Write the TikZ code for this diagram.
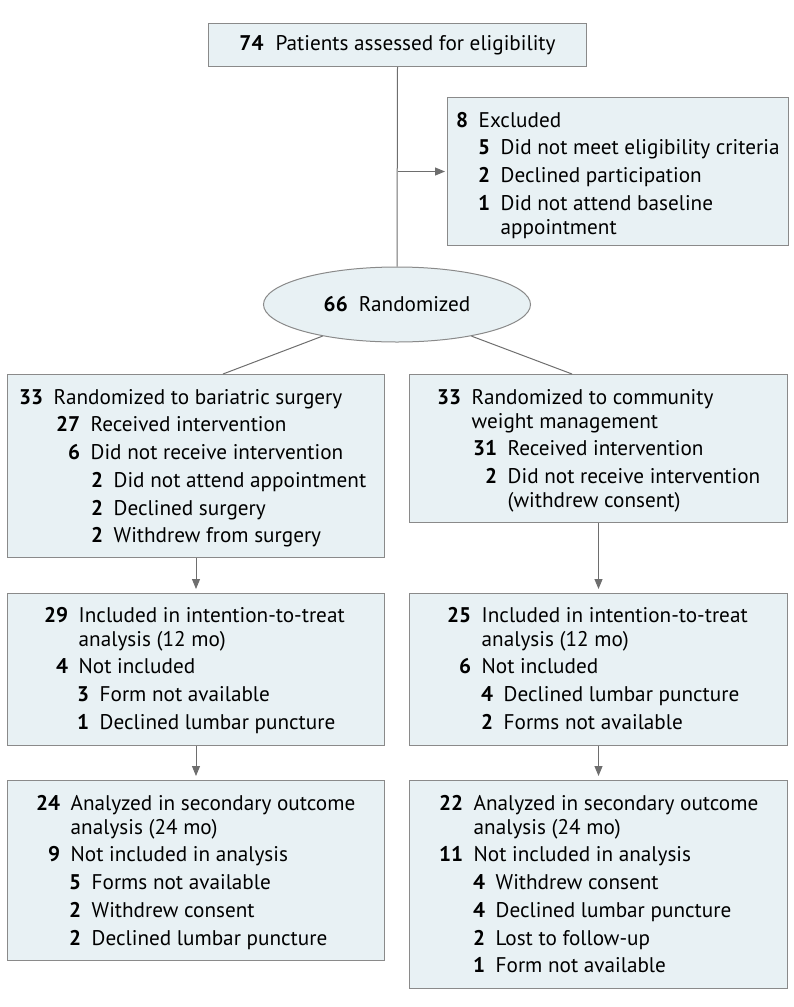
\documentclass[tikz,border=0pt]{standalone}
\usepackage{fontspec}
\setmainfont{PT Sans}
\usetikzlibrary{arrows.meta,shapes.geometric,calc}
\definecolor{boxfill}{RGB}{232,241,244}
\definecolor{boxline}{RGB}{138,138,138}
\definecolor{connc}{RGB}{110,110,110}
\newcommand\nm[2]{\makebox[#1pt][r]{\textbf{#2}}\hspace{10.5pt}}
\newcommand\cn[1]{\hspace*{\dimexpr#1pt+10.5pt\relax}}
\newcommand\st{\rule{0pt}{20pt}}
\newcommand\nl{\\[3.7pt]}
\begin{document}
\begin{tikzpicture}[x=1pt,y=-1pt,
  box/.style={draw=boxline,fill=boxfill,line width=1pt,inner sep=0pt},
  txt/.style={anchor=north west,align=left,inner sep=0pt,font=\fontsize{21.2}{24}\selectfont},
  conn/.style={draw=connc,line width=1pt},
  arr/.style={conn,-{Triangle[length=10pt,width=8pt]}}]
\useasboundingbox (0,0) rectangle (794,1007);

% boxes
\node[box,minimum width=378pt,minimum height=43pt,anchor=north west,font=\fontsize{21.2}{24}\selectfont] (top) at (208,23) {\textbf{74}\hspace{12pt}Patients assessed for eligibility};
\node[box,minimum width=341pt,minimum height=148pt,anchor=north west] (excl) at (447,97) {};
\node[box,ellipse,minimum width=267pt,minimum height=75pt,font=\fontsize{21.2}{24}\selectfont] (rand) at (397,304.5) {\textbf{66}\hspace{11pt}Randomized};
\node[box,minimum width=377pt,minimum height=183pt,anchor=north west] (L1) at (7,374) {};
\node[box,minimum width=378pt,minimum height=148pt,anchor=north west] (R1) at (409,374) {};
\node[box,minimum width=377pt,minimum height=152pt,anchor=north west] (L2) at (7,593) {};
\node[box,minimum width=378pt,minimum height=152pt,anchor=north west] (R2) at (409,593) {};
\node[box,minimum width=377pt,minimum height=180pt,anchor=north west] (L3) at (7,780) {};
\node[box,minimum width=378pt,minimum height=208pt,anchor=north west] (R3) at (409,780) {};

% texts
\node[txt] (exclt) at (447,107) {\st\nm{21}{8}Excluded\nl
  \nm{43}{5}Did not meet eligibility criteria\nl
  \nm{43}{2}Declined participation\nl
  \nm{43}{1}Did not attend baseline\\
  \cn{43}appointment};
\node[txt] (L1t) at (7,384) {\st\nm{36}{33}Randomized to bariatric surgery\nl
  \nm{73}{27}Received intervention\nl
  \nm{73}{6}Did not receive intervention\nl
  \nm{96}{2}Did not attend appointment\nl
  \nm{96}{2}Declined surgery\nl
  \nm{96}{2}Withdrew from surgery};
\node[txt] (R1t) at (409,384) {\st\nm{52}{33}Randomized to community\\
  \cn{52}weight management\nl
  \nm{88}{31}Received intervention\nl
  \nm{88}{2}Did not receive intervention\\
  \cn{88}(withdrew consent)};
\node[txt] (L2t) at (7,602) {\st\nm{61}{29}Included in intention-to-treat\\
  \cn{61}analysis (12 mo)\nl
  \nm{61}{4}Not included\nl
  \nm{82}{3}Form not available\nl
  \nm{82}{1}Declined lumbar puncture};
\node[txt] (R2t) at (409,602) {\st\nm{62}{25}Included in intention-to-treat\\
  \cn{62}analysis (12 mo)\nl
  \nm{62}{6}Not included\nl
  \nm{84}{4}Declined lumbar puncture\nl
  \nm{84}{2}Forms not available};
\node[txt] (L3t) at (7,790) {\st\nm{53}{24}Analyzed in secondary outcome\\
  \cn{53}analysis (24 mo)\nl
  \nm{53}{9}Not included in analysis\nl
  \nm{74}{5}Forms not available\nl
  \nm{74}{2}Withdrew consent\nl
  \nm{74}{2}Declined lumbar puncture};
\node[txt] (R3t) at (409,790) {\st\nm{54}{22}Analyzed in secondary outcome\\
  \cn{54}analysis (24 mo)\nl
  \nm{54}{11}Not included in analysis\nl
  \nm{76}{4}Withdrew consent\nl
  \nm{76}{4}Declined lumbar puncture\nl
  \nm{76}{2}Lost to follow-up\nl
  \nm{76}{1}Form not available};

% connectors
\coordinate (l1in) at ($(L1.north west)+(216,0)$);
\coordinate (r1in) at ($(R1.north west)+(163,0)$);
\draw[conn] (top.south) -- (rand.north);
\draw[arr,shorten >=2pt] (top.south |- excl.west) -- (excl.west);
\draw[conn] (rand.203) -- (l1in);
\draw[conn] (rand.337) -- (r1in);
\draw[arr,shorten >=4pt] (L1.south) -- (L2.north);
\draw[arr,shorten >=4pt] (R1.south) -- (R2.north);
\draw[arr,shorten >=4pt] (L2.south) -- (L3.north);
\draw[arr,shorten >=4pt] (R2.south) -- (R3.north);
\end{tikzpicture}
\end{document}
